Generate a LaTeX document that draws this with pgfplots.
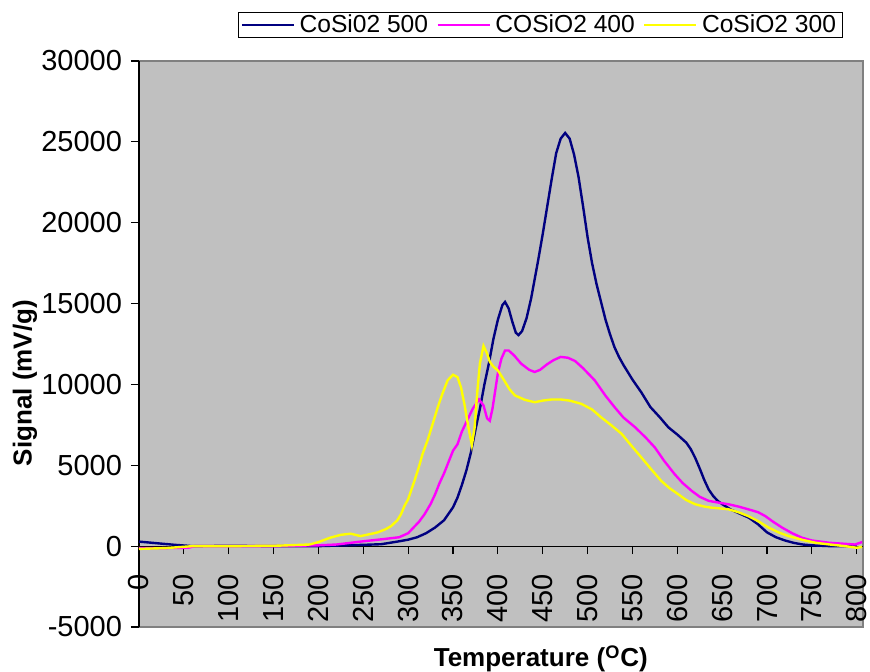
\documentclass[border=0pt]{standalone}
\usepackage{fontspec}
\setmainfont{Liberation Sans}
\usepackage{pgfplots}
\pgfplotsset{compat=1.18}
\definecolor{bgGray}{RGB}{192,192,192}
\definecolor{bdGray}{RGB}{128,128,128}
\definecolor{cNavy}{RGB}{0,0,128}
\definecolor{cMag}{RGB}{255,0,255}
\definecolor{cYel}{RGB}{255,255,0}
\begin{document}
\begin{tikzpicture}
\useasboundingbox (-69.5pt,-22.5pt) rectangle (365.5pt,313.5pt);
\begin{axis}[
  at={(0,0)}, anchor=south west,
  scale only axis, width=362pt, height=283pt,
  xmin=0, xmax=807, ymin=-5000, ymax=30000,
  axis x line=middle, axis y line=left,
  hide obscured x ticks=false, hide obscured y ticks=false,
  axis line style={-, black, line width=0.6pt},
  axis background/.style={fill=bgGray, draw=bdGray, line width=1.2pt},
  xtick={0,50,...,800}, ytick={-5000,0,5000,10000,15000,20000,25000,30000},
  tick align=outside, major tick length=4pt,
  tick style={black, line width=0.6pt},
  scaled y ticks=false,
  /pgf/number format/assume math mode=true,
  /pgf/number format/set thousands separator={},
  ticklabel style={font=\fontsize{14.5}{16}\selectfont},
  xticklabel style={yshift=-6.5pt, rotate=90, anchor=east},
  yticklabel style={xshift=-1pt},
  xlabel={\textbf{Temperature (\textsuperscript{O}C)}},
  ylabel={\textbf{Signal (mV/g)}},
  label style={font=\fontsize{13}{15}\selectfont},
  xlabel style={at={(axis description cs:0.555,-0.0565)}, anchor=center},
  ylabel style={at={(axis description cs:-0.1575,0.431)}, anchor=center, rotate=0},
  legend columns=3,
  legend style={at={(axis description cs:0.137,1.0866)}, anchor=north west,
    draw=black, fill=white, line width=0.6pt, font=\fontsize{12.3}{13}\selectfont,
    inner xsep=1pt, inner ysep=0pt,
    nodes={inner ysep=1pt, inner xsep=2.2pt},
    /tikz/every even column/.append style={column sep=2pt}},
  legend image code/.code={\draw[#1, line width=1.2pt] (0pt,0pt) -- (26pt,0pt);},
  legend cell align=left,
  clip=true,
]
\addplot[cNavy, line width=1.2pt] coordinates {
(0,280) (20,180) (40,80) (60,0) (100,20) (150,0) (200,0) (250,80) (270,120)
(290,300) (300,400) (310,550) (320,800) (330,1150) (340,1600) (350,2400)
(355,3000) (360,3800) (365,4700) (370,5800) (375,7200) (380,8500) (385,10000)
(390,11300) (395,12800) (400,14000) (405,14900) (408,15100) (412,14700)
(416,13900) (420,13200) (423,13050) (427,13300) (432,14100) (437,15300)
(441,16500) (445,17700) (450,19300) (455,21000) (460,22700) (465,24300)
(470,25200) (475,25550) (480,25200) (485,24200) (490,22800) (495,21000)
(500,19100) (505,17500) (510,16200) (515,15100) (520,14000) (525,13100)
(530,12300) (535,11700) (540,11200) (550,10300) (560,9500) (570,8600)
(580,8000) (590,7350) (600,6900) (610,6400) (615,6000) (620,5450) (625,4800)
(630,4100) (635,3500) (640,3100) (645,2800) (650,2600) (660,2250) (670,2000)
(680,1750) (690,1350) (700,850) (710,550) (720,350) (730,200) (740,100)
(750,50) (770,0) (800,0)
};
\addlegendentry{CoSi02 500}
\addplot[cMag, line width=1.2pt] coordinates {
(0,-120) (30,-120) (55,-100) (62,0) (100,0) (150,0) (200,50) (220,100)
(250,300) (270,420) (290,550) (300,800) (306,1150) (312,1500) (318,1950)
(325,2600) (330,3200) (335,3900) (340,4500) (345,5200) (350,5900) (355,6300)
(360,7100) (366,7800) (372,8500) (379,9070) (384,8700) (388,7900) (391,7750)
(394,8500) (397,9600) (400,10700) (404,11600) (408,12100) (412,12100)
(418,11800) (426,11280) (435,10900) (441,10770) (447,10900) (455,11250)
(462,11500) (470,11700) (478,11650) (486,11450) (495,11000) (508,10250)
(520,9300) (530,8600) (540,7950) (553,7350) (565,6700) (575,6100) (585,5300)
(597,4450) (606,3900) (616,3420) (625,3050) (635,2800) (645,2700) (657,2590)
(668,2450) (679,2280) (690,2100) (698,1860) (707,1500) (717,1140) (728,800)
(739,520) (750,350) (769,210) (785,150) (798,100) (806,250)
};
\addlegendentry{COSiO2 400}
\addplot[cYel, line width=1.2pt] coordinates {
(0,-170) (30,-120) (60,0) (100,0) (150,20) (190,100) (200,250) (213,520)
(225,700) (236,770) (247,620) (258,750) (266,850) (275,1050) (281,1240)
(288,1600) (292,1970) (296,2500) (300,2900) (307,4040) (312,4900) (316,5690)
(322,6600) (327,7500) (333,8590) (338,9400) (344,10250) (350,10600)
(355,10450) (359,9800) (363,8700) (367,7400) (371,6250) (374,7300) (377,9500)
(380,11300) (384,12380) (388,11900) (391,11400) (395,11100) (400,10870)
(407,10250) (413,9700) (419,9320) (430,9050) (441,8900) (450,9000) (460,9070)
(470,9070) (480,9000) (493,8800) (505,8450) (515,7970) (527,7450) (538,6940)
(549,6200) (560,5480) (571,4750) (582,4040) (591,3600) (601,3210) (610,2850)
(620,2590) (630,2450) (638,2380) (648,2330) (657,2280) (668,2100) (679,1860)
(690,1550) (702,1140) (713,850) (724,620) (740,380) (754,210) (770,100)
(787,0) (800,-100) (806,-50)
};
\addlegendentry{CoSiO2 300}
\end{axis}
\end{tikzpicture}
\end{document}
